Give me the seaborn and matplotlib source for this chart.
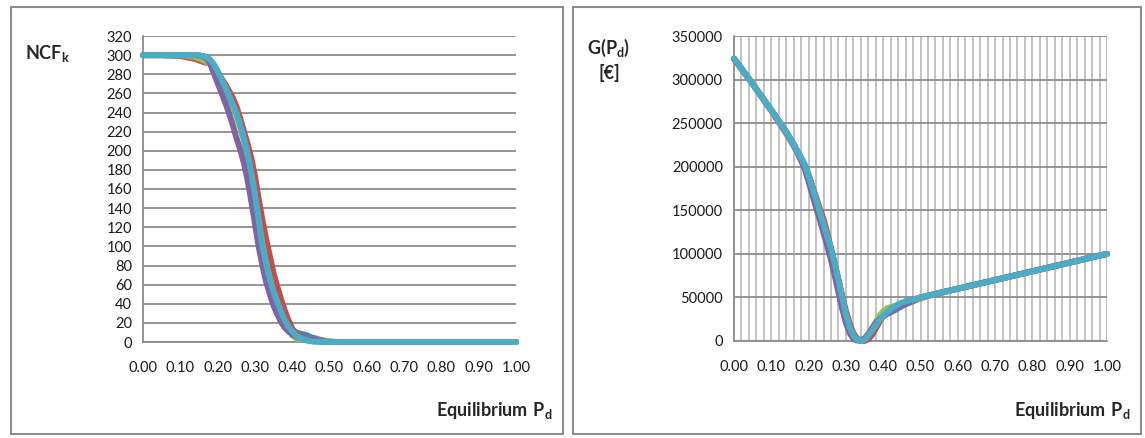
import matplotlib
matplotlib.use("Agg")
import matplotlib.pyplot as plt
from matplotlib.patches import Rectangle
import seaborn as sns
import pandas as pd

# equilibrium price grid shared by all runs
pd_x = [0.00, 0.05, 0.10, 0.14, 0.16, 0.17, 0.18, 0.19, 0.20, 0.21, 0.22,
        0.23, 0.24, 0.25, 0.26, 0.27, 0.28, 0.29, 0.30, 0.31, 0.32, 0.33,
        0.34, 0.35, 0.36, 0.37, 0.38, 0.39, 0.40, 0.41, 0.42, 0.43, 0.44,
        0.45, 0.46, 0.48, 0.50, 0.52, 0.55, 0.60, 0.70, 0.80, 0.90, 1.00]

# NCF_k, five runs
ncf_1 = [300, 300, 300, 300, 299, 298, 295, 290, 283, 275, 267, 258, 249, 240, 228,
         214, 198, 178, 155, 128, 100, 82, 66, 53, 42, 32, 23, 16, 12, 10, 9, 8, 7,
         5, 4, 2, 0, 0, 0, 0, 0, 0, 0, 0]
ncf_2 = [300, 300, 299, 296, 293, 292, 291, 287, 282, 276, 270, 263, 256, 247, 235,
         221, 208, 193, 174, 150, 128, 108, 90, 72, 58, 45, 33, 23, 14, 9, 6, 4, 2.5,
         1.5, 1, 0.5, 0, 0, 0, 0, 0, 0, 0, 0]
ncf_3 = [300, 300, 300, 298, 295, 293, 291, 287, 281, 274, 266, 257, 247, 237, 225,
         211, 195, 175, 152, 127, 102, 83, 66, 52, 40, 29, 20, 13, 7, 4, 3, 3, 3,
         2.5, 2, 1.5, 1, 0, 0, 0, 0, 0, 0, 0]
ncf_4 = [300, 300, 300, 300, 299, 297, 291, 281, 271, 261, 251, 240, 228, 214, 202,
         188, 170, 148, 124, 100, 80, 63, 50, 38, 29, 21, 15, 11, 8, 6, 4.5, 3.5, 3,
         2.5, 2, 1, 0, 0, 0, 0, 0, 0, 0, 0]
ncf_5 = [300, 300, 300, 300, 299, 298, 295, 290, 283, 275, 267, 258, 249, 240, 228,
         214, 198, 178, 155, 128, 100, 82, 66, 53, 42, 32, 23, 16, 11, 7, 4.5, 3, 1.5,
         0.8, 0.3, 0, 0, 0, 0, 0, 0, 0, 0, 0]

# G(P_d) in euro, five runs
g_1 = [324000, 295000, 265000, 240000, 226000, 218000, 210000, 202000, 190000, 176000,
       162000, 148000, 134000, 120000, 106000, 89000, 70000, 50000, 31000, 16000, 6500,
       1500, 0, 1500, 6000, 12000, 18000, 24000, 29000, 31000, 33000, 35000, 37500,
       40000, 42000, 45500, 49500, 52000, 55000, 60000, 70000, 80000, 90000, 100000]
g_2 = [324000, 295000, 264000, 238000, 224000, 217000, 209000, 201000, 191000, 178000,
       165000, 152000, 140000, 124000, 106000, 88000, 70000, 52000, 35000, 20000, 9000,
       3000, 500, 0, 2000, 7000, 14000, 22000, 29000, 33000, 36000, 39000, 41500,
       43500, 45500, 47500, 50000, 52000, 55000, 60000, 70000, 80000, 90000, 100000]
g_3 = [324000, 295000, 265000, 239000, 224000, 217000, 209000, 201000, 189000, 175000,
       161000, 147000, 133000, 119000, 103000, 85000, 66000, 46000, 27000, 13000, 5000,
       1000, 0, 2000, 8000, 15000, 22000, 29000, 34000, 37500, 39000, 40000, 41500,
       43000, 44500, 46500, 48500, 51500, 55000, 60000, 70000, 80000, 90000, 100000]
g_4 = [324000, 295000, 265000, 240000, 225000, 216000, 207000, 197000, 183000, 168000,
       153000, 139000, 124000, 109000, 93000, 75000, 56000, 37000, 21000, 9000, 2500,
       500, 1000, 3000, 8000, 14000, 20000, 25000, 28000, 31000, 34000, 36500, 39000,
       41000, 43000, 46500, 50000, 52000, 55000, 60000, 70000, 80000, 90000, 100000]
g_5 = [324000, 295000, 265000, 240000, 226000, 218000, 210000, 202000, 190000, 176000,
       162000, 148000, 134000, 120000, 106000, 89000, 70000, 50000, 31000, 16000, 6500,
       1500, 0, 1500, 6000, 12000, 18000, 24000, 29000, 33000, 36500, 39500, 42000,
       44000, 45500, 47500, 50000, 52000, 55000, 60000, 70000, 80000, 90000, 100000]

runs = ["1", "2", "3", "4", "5"]
colors = ["#4F81BD", "#C0504D", "#9BBB59", "#8064A2", "#4BACC6"]

ncf_df = pd.DataFrame({"Pd": pd_x * 5,
                       "val": ncf_1 + ncf_2 + ncf_3 + ncf_4 + ncf_5,
                       "run": [r for r in runs for _ in pd_x]})
g_df = pd.DataFrame({"Pd": pd_x * 5,
                     "val": g_1 + g_2 + g_3 + g_4 + g_5,
                     "run": [r for r in runs for _ in pd_x]})

sns.set_style("white")
plt.rcParams["font.family"] = ["Lato", "DejaVu Sans"]
plt.rcParams["mathtext.fontset"] = "custom"
plt.rcParams["mathtext.rm"] = "Lato"
plt.rcParams["mathtext.bf"] = "Lato:bold"

fig = plt.figure(figsize=(11.45, 4.38), dpi=100)
W, H = 1145, 438

# panel frames
for x0, x1 in [(11, 563), (573, 1141)]:
    fig.patches.append(Rectangle((x0 / W, 1 - 434 / H), (x1 - x0) / W, 427 / H,
                                 transform=fig.transFigure, fill=False,
                                 edgecolor="#8c8c8c", linewidth=1.5))

grid_c = "#8c8c8c"
ax1 = fig.add_axes([143 / W, 1 - 342 / H, 373 / W, 306 / H])
ax2 = fig.add_axes([734 / W, 1 - 341 / H, 373 / W, 305 / H])

for ax, df in [(ax1, ncf_df), (ax2, g_df)]:
    sns.lineplot(data=df, x="Pd", y="val", hue="run", palette=colors,
                 linewidth=4.3, legend=False, ax=ax, clip_on=False, zorder=3)
    ax.set_xlim(0, 1)
    ax.set_xticks([i / 10 for i in range(11)])
    ax.set_xticklabels([f"{i / 10:.2f}" for i in range(11)])
    ax.set_xlabel("")
    ax.set_ylabel("")
    for s in ["top", "right"]:
        ax.spines[s].set_visible(False)
    for s in ["left", "bottom"]:
        ax.spines[s].set_color(grid_c)
        ax.spines[s].set_linewidth(1.3)
    ax.tick_params(axis="x", length=5, width=1.3, color=grid_c, direction="out",
                   labelsize=10.5, pad=9, labelcolor="#1a1a1a")
    ax.tick_params(axis="y", length=0, labelsize=10.5, pad=8, labelcolor="#1a1a1a")
    ax.set_axisbelow(True)

ax1.set_ylim(0, 320)
ax1.set_yticks(range(0, 321, 20))
ax1.grid(axis="y", color=grid_c, linewidth=1.3)

ax2.set_ylim(0, 350000)
ax2.set_yticks(range(0, 350001, 50000))
ax2.set_yticklabels([str(v) for v in range(0, 350001, 50000)])
ax2.set_xticks([i / 50 for i in range(51)], minor=True)
ax2.tick_params(axis="x", which="minor", length=0)
ax2.grid(axis="y", color=grid_c, linewidth=1.3)
ax2.grid(axis="x", which="both", color="#bdbdbd", linewidth=1.3)
ax2.axvline(1.0, color="#bdbdbd", linewidth=1.3, zorder=0)

# axis titles
fig.text(25 / W, 1 - 53 / H, r"$\mathbf{NCF}_\mathbf{k}$", fontsize=13,
         va="center", ha="left")
fig.text(609 / W, 1 - 48 / H, r"$\mathbf{G(P}_\mathbf{d}\mathbf{)}$", fontsize=13,
         va="center", ha="center")
fig.text(609 / W, 1 - 73 / H, "[€]", fontsize=13, fontweight="bold",
         va="center", ha="center")
fig.text(553 / W, 1 - 416 / H, r"$\mathbf{Equilibrium\ P}_\mathbf{d}$", fontsize=13,
         va="baseline", ha="right")
fig.text(1131 / W, 1 - 416 / H, r"$\mathbf{Equilibrium\ P}_\mathbf{d}$", fontsize=13,
         va="baseline", ha="right")

fig.savefig("out.png", dpi=100)
